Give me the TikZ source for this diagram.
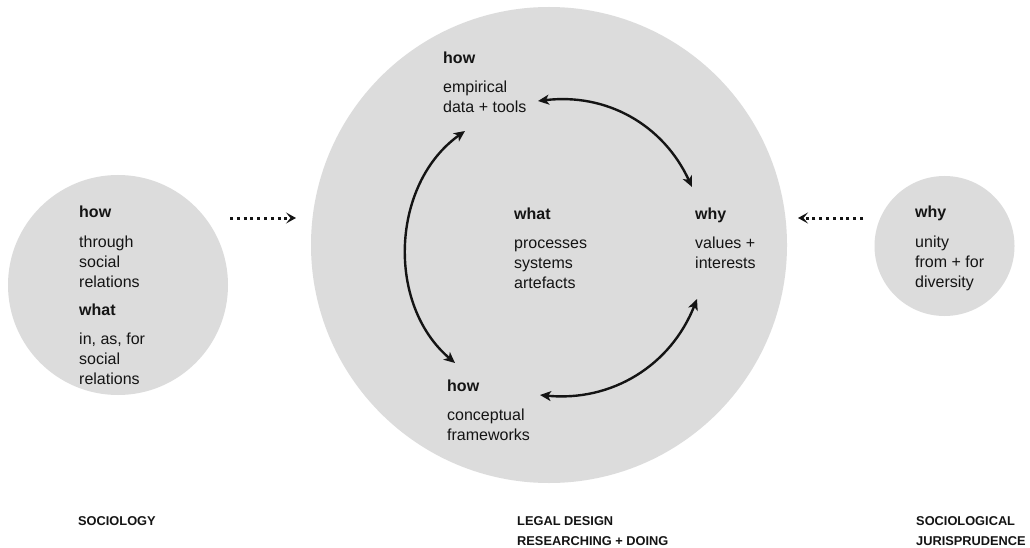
\documentclass[tikz,border=0pt]{standalone}
\usepackage{fontspec}
\setmainfont{Liberation Sans}
\usetikzlibrary{arrows.meta}
\definecolor{discgray}{RGB}{220,220,220}
\definecolor{ink}{RGB}{20,20,20}
\begin{document}
\begin{tikzpicture}[x=1pt,y=-1pt,
  disc/.style={circle, fill=discgray, draw=none, inner sep=0pt},
  head/.style={anchor=base west, inner sep=0pt, font=\fontsize{16}{20}\selectfont\bfseries, text=ink},
  body/.style={anchor=base west, inner sep=0pt, align=left, font=\fontsize{16}{20}\selectfont, text=ink},
  field/.style={anchor=base west, inner sep=0pt, align=left, font=\fontsize{12.8}{20}\selectfont\bfseries, text=ink},
  cyc/.style={line width=2.4pt, draw=ink, {Stealth[length=11pt,width=10pt,inset=3pt]}-{Stealth[length=11pt,width=10pt,inset=3pt]}},
  dotarrow/.style={draw=ink, line width=3pt, dash pattern=on 3pt off 3.8pt, -{Stealth[length=10pt,width=11pt,inset=4.5pt]}}
]
\useasboundingbox (0,0) rectangle (1030,548);
\fill[white] (0,0) rectangle (1030,548);

% discs
\node[disc, minimum size=476pt] (legal) at (549,245) {};
\node[disc, minimum size=220pt] (soc) at (118,285) {};
\node[disc, minimum size=140pt] (jur) at (944.5,246) {};

% big circle texts (multi-line nodes: base = last line)
\node[head] (how1) at (443,64) {how};
\node[body] (emp) at (443,113) {empirical\\data + tools};
\node[head] (what1) at (514,219) {what};
\node[body] (proc) at (514,288) {processes\\systems\\artefacts};
\node[head] (why1) at (695,219) {why};
\node[body] (val) at (695,268) {values +\\interests};
\node[head] (how2) at (447,391) {how};
\node[body] (conc) at (447,440) {conceptual\\frameworks};

% left circle texts
\node[head] (how3) at (79,218) {how};
\node[body] (thr) at (79,287) {through\\social\\relations};
\node[head] (what3) at (79,315) {what};
\node[body] (inas) at (79,384) {in, as, for\\social\\relations};

% right circle texts
\node[head] (why3) at (915,218) {why};
\node[body] (unity) at (915,287) {unity\\from + for\\diversity};

% bottom labels
\node[field] (lsoc) at (78,525) {SOCIOLOGY};
\node[field] (lleg) at (517,545) {LEGAL DESIGN\\RESEARCHING + DOING};
\node[field] (ljur) at (916,545) {SOCIOLOGICAL\\JURISPRUDENCE};

% cycle arrow end points
\coordinate (a1) at (538,101);
\coordinate (a2) at (692,187);
\coordinate (b1) at (540,395);
\coordinate (b2) at (697,299);
\coordinate (c1) at (465,131);
\coordinate (c2) at (455,363);
\draw[cyc] (a1) to[bend left=36] (a2);
\draw[cyc] (b1) to[bend right=37] (b2);
\draw[cyc] (c1) to[bend right=52] (c2);

% dotted arrows
\coordinate (l1) at (230,218);
\coordinate (l2) at (296,218);
\coordinate (r1) at (863,218);
\coordinate (r2) at (798,218);
\draw[dotarrow] (l1) -- (l2);
\draw[dotarrow] (r1) -- (r2);
\end{tikzpicture}
\end{document}
